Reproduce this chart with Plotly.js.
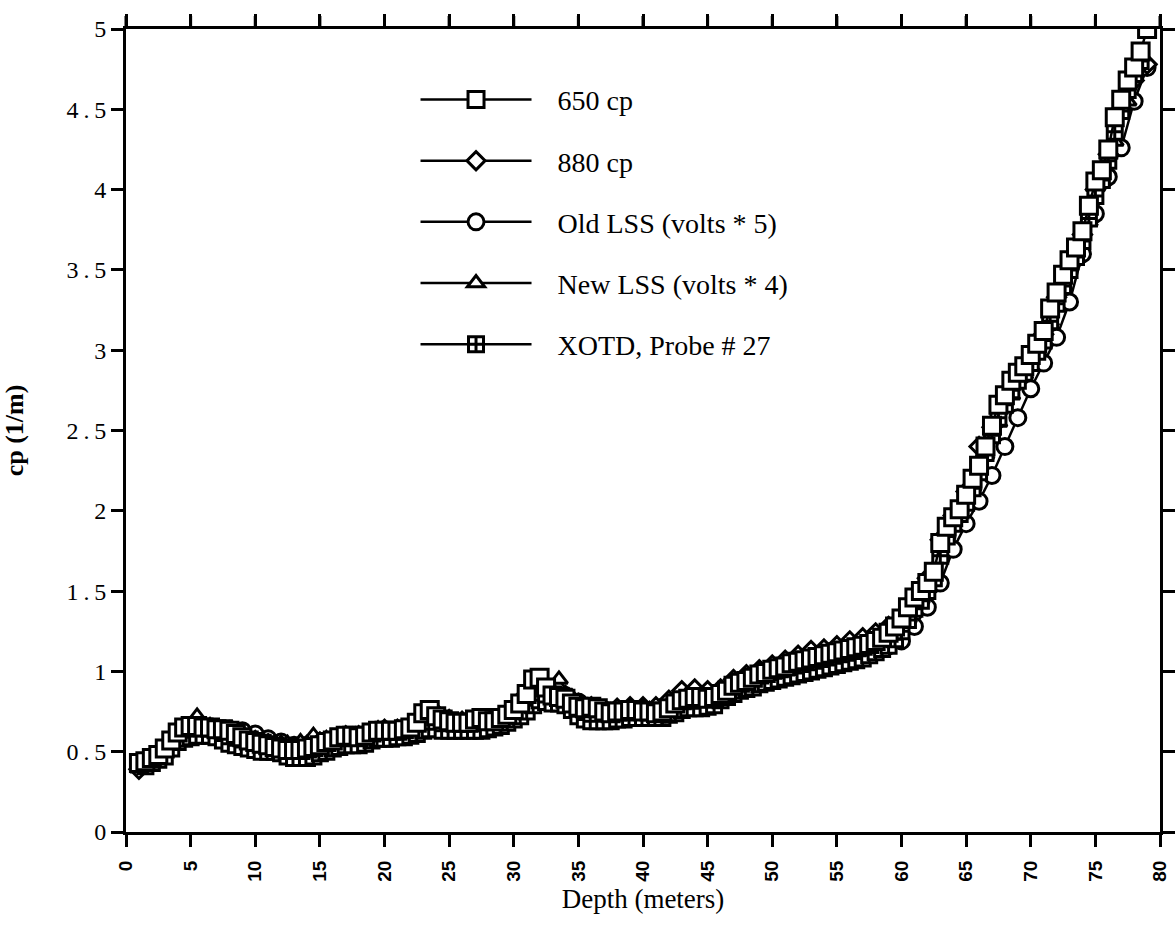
<!DOCTYPE html>
<html>
<head>
<meta charset="utf-8">
<script src="https://cdn.plot.ly/plotly-3.0.1.min.js"></script>
<style>html,body{margin:0;padding:0;background:#fff;}#chart{width:1175px;height:941px;}</style>
</head>
<body>
<div id="chart"></div>
<script>
// Depths (meters)
const depthHalf = [1.0,1.5,2.0,2.5,3.0,3.5,4.0,4.5,5.0,5.5,6.0,6.5,7.0,7.5,8.0,8.5,9.0,9.5,10.0,10.5,11.0,11.5,12.0,12.5,13.0,13.5,14.0,14.5,15.0,15.5,16.0,16.5,17.0,17.5,18.0,18.5,19.0,19.5,20.0,20.5,21.0,21.5,22.0,22.5,23.0,23.5,24.0,24.5,25.0,25.5,26.0,26.5,27.0,27.5,28.0,28.5,29.0,29.5,30.0,30.5,31.0,31.5,32.0,32.5,33.0,33.5,34.0,34.5,35.0,35.5,36.0,36.5,37.0,37.5,38.0,38.5,39.0,39.5,40.0,40.5,41.0,41.5,42.0,42.5,43.0,43.5,44.0,44.5,45.0,45.5,46.0,46.5,47.0,47.5,48.0,48.5,49.0,49.5,50.0,50.5,51.0,51.5,52.0,52.5,53.0,53.5,54.0,54.5,55.0,55.5,56.0,56.5,57.0,57.5,58.0,58.5,59.0,59.5,60.0,60.5,61.0,61.5,62.0,62.5,63.0,63.5,64.0,64.5,65.0,65.5,66.0,66.5,67.0,67.5,68.0,68.5,69.0,69.5,70.0,70.5,71.0,71.5,72.0,72.5,73.0,73.5,74.0,74.5,75.0,75.5,76.0,76.5,77.0,77.5,78.0,78.5,79.0];
const depthInt = [1,2,3,4,5,6,7,8,9,10,11,12,13,14,15,16,17,18,19,20,21,22,23,24,25,26,27,28,29,30,31,32,33,34,35,36,37,38,39,40,41,42,43,44,45,46,47,48,49,50,51,52,53,54,55,56,57,58,59,60,61,62,63,64,65,66,67,68,69,70,71,72,73,74,75,76,77,78,79];
const depthTri = [1.5,2.5,3.5,4.5,5.5,6.5,7.5,8.5,9.5,10.5,11.5,12.5,13.5,14.5,15.5,16.5,17.5,18.5,19.5,20.5,21.5,22.5,23.5,24.5,25.5,26.5,27.5,28.5,29.5,30.5,31.5,32.5,33.5,34.5,35.5,36.5,37.5,38.5,39.5,40.5,41.5,42.5,43.5,44.5,45.5,46.5,47.5,48.5,49.5,50.5,51.5,52.5,53.5,54.5,55.5,56.5,57.5,58.5,59.5,60.5,61.5,62.5,63.5,64.5,65.5,66.5,67.5,68.5,69.5,70.5,71.5,72.5,73.5,74.5,75.5,76.5,77.5,78.5];
const depthX = depthHalf.slice(0, 156);

// Series values cp (1/m)
const cp650 = [0.43,0.44,0.46,0.48,0.52,0.57,0.62,0.65,0.66,0.66,0.65,0.65,0.64,0.64,0.63,0.61,0.59,0.57,0.56,0.55,0.54,0.53,0.52,0.51,0.51,0.51,0.52,0.53,0.54,0.56,0.57,0.59,0.60,0.60,0.59,0.60,0.62,0.63,0.63,0.63,0.63,0.64,0.65,0.68,0.74,0.76,0.72,0.70,0.69,0.68,0.68,0.68,0.70,0.71,0.69,0.69,0.71,0.73,0.76,0.80,0.86,0.95,0.96,0.90,0.85,0.84,0.83,0.80,0.78,0.77,0.78,0.77,0.75,0.74,0.75,0.75,0.76,0.76,0.75,0.75,0.74,0.75,0.77,0.80,0.82,0.83,0.84,0.84,0.83,0.84,0.86,0.88,0.91,0.93,0.94,0.96,0.98,0.99,1.01,1.02,1.03,1.05,1.06,1.07,1.08,1.09,1.10,1.11,1.12,1.13,1.14,1.15,1.16,1.17,1.19,1.21,1.24,1.28,1.33,1.40,1.46,1.50,1.55,1.62,1.80,1.90,1.96,2.01,2.10,2.20,2.28,2.40,2.53,2.66,2.72,2.81,2.86,2.90,2.97,3.04,3.12,3.26,3.36,3.47,3.56,3.64,3.74,3.90,4.05,4.12,4.25,4.45,4.56,4.68,4.76,4.86,5.00];
const cp880 = [0.39,0.44,0.50,0.60,0.63,0.64,0.64,0.62,0.59,0.57,0.55,0.54,0.53,0.54,0.56,0.58,0.60,0.60,0.62,0.64,0.64,0.65,0.72,0.74,0.70,0.69,0.69,0.70,0.72,0.76,0.86,0.93,0.86,0.85,0.80,0.78,0.76,0.77,0.78,0.78,0.78,0.82,0.88,0.89,0.88,0.89,0.95,0.98,1.01,1.04,1.07,1.10,1.13,1.14,1.16,1.19,1.21,1.24,1.28,1.33,1.45,1.58,1.82,1.97,2.12,2.40,2.52,2.70,2.85,2.95,3.10,3.33,3.52,3.72,4.00,4.22,4.50,4.68,4.78];
const oldLSS = [0.42,0.45,0.50,0.58,0.62,0.63,0.64,0.64,0.63,0.61,0.58,0.56,0.54,0.54,0.55,0.57,0.58,0.58,0.60,0.62,0.62,0.63,0.66,0.69,0.68,0.67,0.67,0.68,0.70,0.73,0.79,0.86,0.86,0.85,0.81,0.78,0.76,0.75,0.75,0.75,0.75,0.76,0.80,0.83,0.84,0.84,0.88,0.91,0.94,0.97,0.99,1.01,1.03,1.05,1.07,1.09,1.11,1.13,1.16,1.19,1.28,1.40,1.55,1.76,1.92,2.06,2.22,2.40,2.58,2.76,2.92,3.08,3.30,3.60,3.85,4.08,4.26,4.55,4.76];
const newLSS = [0.42,0.47,0.56,0.64,0.72,0.66,0.64,0.61,0.58,0.56,0.55,0.55,0.56,0.60,0.58,0.60,0.60,0.61,0.64,0.63,0.64,0.67,0.70,0.68,0.67,0.68,0.69,0.70,0.73,0.78,0.84,0.86,0.95,0.84,0.79,0.76,0.75,0.76,0.76,0.76,0.77,0.80,0.84,0.85,0.86,0.89,0.93,0.96,0.99,1.01,1.04,1.06,1.08,1.10,1.12,1.14,1.16,1.19,1.24,1.33,1.45,1.60,1.85,1.98,2.15,2.35,2.55,2.72,2.85,2.98,3.18,3.40,3.58,3.80,4.05,4.30,4.55,4.78];
const xotd = [0.42,0.41,0.43,0.45,0.47,0.52,0.56,0.58,0.59,0.60,0.60,0.60,0.59,0.57,0.55,0.54,0.53,0.52,0.51,0.50,0.50,0.50,0.49,0.47,0.46,0.46,0.46,0.47,0.49,0.50,0.52,0.53,0.54,0.54,0.54,0.55,0.57,0.58,0.58,0.58,0.59,0.59,0.60,0.61,0.63,0.64,0.64,0.63,0.63,0.63,0.63,0.63,0.63,0.63,0.64,0.65,0.66,0.68,0.70,0.72,0.75,0.79,0.82,0.81,0.80,0.80,0.79,0.76,0.72,0.70,0.69,0.69,0.69,0.69,0.70,0.70,0.71,0.71,0.71,0.71,0.71,0.71,0.73,0.74,0.76,0.77,0.77,0.77,0.78,0.79,0.82,0.84,0.86,0.88,0.89,0.90,0.92,0.93,0.94,0.95,0.96,0.97,0.98,0.99,1.00,1.01,1.02,1.03,1.04,1.05,1.06,1.07,1.08,1.10,1.12,1.14,1.16,1.20,1.25,1.32,1.39,1.44,1.50,1.58,1.72,1.84,1.92,1.98,2.05,2.14,2.24,2.36,2.47,2.58,2.66,2.75,2.81,2.86,2.92,2.99,3.06,3.18,3.29,3.40,3.50,3.58,3.68,3.82,3.96,4.06,4.18,4.36,4.49,4.62,4.72,4.80];

const xTicks = [0,5,10,15,20,25,30,35,40,45,50,55,60,65,70,75,80];
const yTicks = [0,0.5,1,1.5,2,2.5,3,3.5,4,4.5,5];
const yTickText = ['0','0\u2009.\u20095','1','1\u2009.\u20095','2','2\u2009.\u20095','3','3\u2009.\u20095','4','4\u2009.\u20095','5'];

const PAD = '\u00a0\u00a0\u00a0';
function tr(name, x, y, symbol, size, rank) {
  return {
    type: 'scatter', mode: 'lines+markers', name: PAD + name, x: x, y: y,
    line: {color: '#000', width: 2.5},
    marker: {symbol: symbol, size: size, color: '#fff', line: {color: '#000', width: 3}},
    legendrank: rank, legendgroup: 'g' + rank
  };
}

const traces = [
  tr('Old LSS (volts * 5)', depthInt, oldLSS, 'circle', 16, 3),
  tr('New LSS (volts * 4)', depthTri, newLSS, 'triangle-up', 15, 4),
  tr('880 cp', depthInt, cp880, 'diamond', 14, 2),
  tr('XOTD, Probe # 27', depthX, xotd, 'square-cross', 15, 5),
  tr('650 cp', depthHalf, cp650, 'square', 17, 1)
];

// Top-edge tick marks drawn as arrowless annotation stubs at the x tick values
const topTicks = xTicks.map(function (t) {
  return {xref: 'x', yref: 'paper', x: t, y: 1, text: ' ', font: {size: 1},
          showarrow: true, arrowhead: 0, arrowwidth: 3, arrowcolor: '#000',
          ax: 0, ay: -14, standoff: 0, startstandoff: 0, borderpad: 0};
});

const serif = 'Liberation Serif, Times New Roman, serif';
const layout = {
  width: 1175, height: 941,
  margin: {l: 126, r: 15, t: 29, b: 109},
  paper_bgcolor: '#fff', plot_bgcolor: '#fff',
  showlegend: true,
  annotations: topTicks,
  legend: {
    x: 0.28, y: 0.943, xanchor: 'left', yanchor: 'top',
    font: {family: serif, size: 28, color: '#000'},
    bgcolor: 'rgba(0,0,0,0)', borderwidth: 0,
    tracegroupgap: 21.8, itemwidth: 111, traceorder: 'grouped'
  },
  xaxis: {
    range: [0, 80], tickmode: 'array', tickvals: xTicks, ticktext: xTicks.map(String),
    tickangle: -90, ticks: 'outside', ticklen: 12, tickwidth: 3, tickcolor: '#000',
    ticklabelstandoff: 6,
    showline: true, linecolor: '#000', linewidth: 3, mirror: 'ticks',
    showgrid: false, zeroline: false,
    tickfont: {family: 'Liberation Sans, Arial, sans-serif', size: 19, weight: 'bold', color: '#000'},
    title: {text: 'Depth (meters)', font: {family: serif, size: 27, color: '#000'}, standoff: 9}
  },
  yaxis: {
    range: [0, 5], tickmode: 'array', tickvals: yTicks, ticktext: yTickText,
    ticks: 'outside', ticklen: 12, tickwidth: 3, tickcolor: '#000',
    showline: true, linecolor: '#000', linewidth: 3, mirror: 'ticks',
    showgrid: false, zeroline: false,
    tickfont: {family: serif, size: 24, color: '#000'},
    title: {text: 'cp (1/m)', font: {family: serif, size: 26, color: '#000', weight: 'bold'}, standoff: 46}
  }
};

Plotly.newPlot('chart', traces, layout, {displayModeBar: false});
</script>
</body>
</html>
